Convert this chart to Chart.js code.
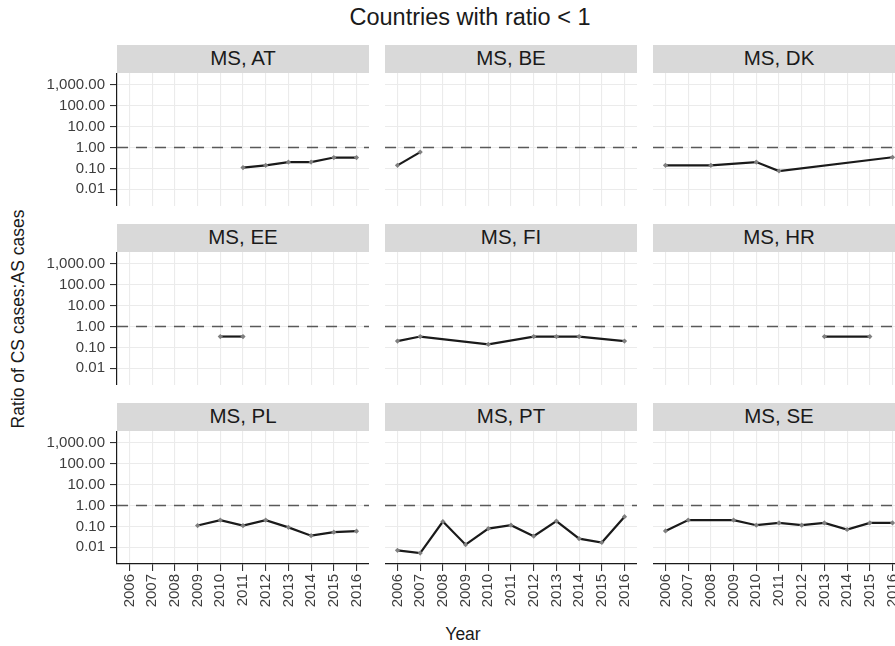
<!DOCTYPE html>
<html>
<head>
<meta charset="utf-8">
<script src="https://cdn.jsdelivr.net/npm/chart.js@4/dist/chart.umd.min.js"></script>
<style>
html,body{margin:0;padding:0;background:#fff;overflow:hidden;width:895px;height:646px}
#root{position:relative;width:930px;height:646px;font-family:"Liberation Sans",Arial,Helvetica,sans-serif;color:#1a1a1a}
.strip{position:absolute;background:#d9d9d9;color:#1a1a1a;text-align:center;font-size:20.5px;height:28px;line-height:25px;white-space:nowrap;overflow:hidden}
.wrap{position:absolute}
.wrap canvas{display:block}
#title{position:absolute;left:0;top:3px;width:940px;text-align:center;font-size:23.5px;line-height:28px}
#xtitle{position:absolute;left:363px;top:623px;width:200px;text-align:center;font-size:17.5px;line-height:22px}
#ytitle{position:absolute;left:-132px;top:308px;width:300px;height:22px;text-align:center;font-size:17.5px;line-height:22px;transform:rotate(-90deg);transform-origin:50% 50%}
</style>
</head>
<body>
<div id="root">
  <div id="title">Countries with ratio &lt; 1</div>
  <div id="xtitle">Year</div>
  <div id="ytitle">Ratio of CS cases:AS cases</div>
</div>
<script>
// ---- data ----
const years = [2006, 2007, 2008, 2009, 2010, 2011, 2012, 2013, 2014, 2015, 2016];
const yTickValues = [0.01, 0.1, 1, 10, 100, 1000];
const threshold = 1;
const panelNames = ['MS, AT', 'MS, BE', 'MS, DK', 'MS, EE', 'MS, FI', 'MS, HR', 'MS, PL', 'MS, PT', 'MS, SE'];

const AT = [null, null, null, null, null, 0.11, 0.14, 0.2, 0.2, 0.33, 0.33];
const BE = [0.14, 0.6, null, null, null, null, null, null, null, null, null];
const DK = [0.14, null, 0.14, null, 0.2, 0.075, null, null, null, null, 0.34];
const EE = [null, null, null, null, 0.33, 0.33, null, null, null, null, null];
const FI = [0.2, 0.33, null, null, 0.14, null, 0.33, 0.33, 0.33, null, 0.2];
const HR = [null, null, null, null, null, null, null, 0.33, null, 0.33, null];
const PL = [null, null, null, 0.11, 0.2, 0.11, 0.2, 0.09, 0.036, 0.053, 0.059];
const PT = [0.0072, 0.0053, 0.17, 0.0134, 0.079, 0.114, 0.034, 0.18, 0.026, 0.017, 0.29];
const SE = [0.061, 0.2, null, 0.2, 0.114, 0.147, 0.114, 0.147, 0.071, 0.147, 0.147];
const panelSeries = [AT, BE, DK, EE, FI, HR, PL, PT, SE];

// ---- layout ----
const FONT = '"Liberation Sans", Arial, Helvetica, sans-serif';
Chart.defaults.font.family = FONT;
const colLeft = [117, 385, 653];
const rowTop = [73, 252, 431];
const PW = 252, PH = 133, YAX = 117, XAX = 60, STRIP = 28;
const xPad = 0.55;
const yMin = 0.0016, yMax = 3600;

const refLinePlugin = {
  id: 'refLine',
  beforeDatasetsDraw(chart) {
    const {ctx, chartArea: a, scales: {y}} = chart;
    const py = Math.round(y.getPixelForValue(threshold)) + 0.5;
    ctx.save();
    ctx.strokeStyle = '#595959';
    ctx.lineWidth = 1.5;
    ctx.setLineDash([11, 8]);
    ctx.beginPath();
    ctx.moveTo(a.left, py);
    ctx.lineTo(a.right, py);
    ctx.stroke();
    ctx.restore();
  }
};

const root = document.getElementById('root');
const fmt = v => Number(v).toLocaleString('en-US', {minimumFractionDigits: 2, maximumFractionDigits: 2});

panelNames.forEach((name, i) => {
  const r = Math.floor(i / 3), c = i % 3;
  const hasY = c === 0, hasX = r === 2;

  const strip = document.createElement('div');
  strip.className = 'strip';
  strip.style.left = colLeft[c] + 'px';
  strip.style.top = (rowTop[r] - STRIP) + 'px';
  strip.style.width = PW + 'px';
  strip.textContent = name;
  root.appendChild(strip);

  const w = PW + (hasY ? YAX : 0);
  const h = PH + (hasX ? XAX : 0);
  const wrap = document.createElement('div');
  wrap.className = 'wrap';
  wrap.style.left = (colLeft[c] - (hasY ? YAX : 0)) + 'px';
  wrap.style.top = rowTop[r] + 'px';
  wrap.style.width = w + 'px';
  wrap.style.height = h + 'px';
  const cv = document.createElement('canvas');
  cv.width = w; cv.height = h;
  cv.style.width = w + 'px'; cv.style.height = h + 'px';
  wrap.appendChild(cv);
  root.appendChild(wrap);

  const vals = panelSeries[i];
  const pts = years.map((yr, k) => ({x: yr, y: vals[k]})).filter(p => p.y !== null);

  new Chart(cv.getContext('2d'), {
    type: 'line',
    data: {
      datasets: [{
        data: pts,
        borderColor: '#1a1a1a',
        borderWidth: 2.2,
        pointStyle: 'rectRot',
        pointRadius: 2.6,
        pointBorderWidth: 0,
        pointBackgroundColor: '#808080',
        tension: 0,
        fill: false
      }]
    },
    options: {
      responsive: false,
      animation: false,
      events: [],
      layout: {padding: 0, autoPadding: false},
      plugins: {legend: {display: false}, tooltip: {enabled: false}, title: {display: false}},
      scales: {
        x: {
          type: 'linear',
          min: years[0] - xPad,
          max: years[years.length - 1] + xPad,
          afterBuildTicks: s => { s.ticks = years.map(v => ({value: v})); },
          afterFit: s => { s.height = hasX ? XAX : 0; s.paddingLeft = 0; s.paddingRight = 0; s.paddingTop = 0; s.paddingBottom = 0; },
          grid: {color: '#ebebeb', lineWidth: 1.1, drawTicks: hasX, tickLength: 7, tickColor: '#333333', tickWidth: 1.1},
          border: {display: hasX, color: '#1a1a1a', width: 1.2},
          ticks: {display: hasX, autoSkip: false, minRotation: 90, maxRotation: 90, padding: 3,
                  color: '#3d3d3d', font: {family: FONT, size: 15}, callback: v => String(v)}
        },
        y: {
          type: 'logarithmic',
          min: yMin,
          max: yMax,
          bounds: 'data',
          afterBuildTicks: s => { s.ticks = yTickValues.map(v => ({value: v})); },
          afterFit: s => { s.width = hasY ? YAX : 0; s.paddingTop = 0; s.paddingBottom = 0; s.paddingLeft = 0; s.paddingRight = 0; },
          grid: {color: '#ebebeb', lineWidth: 1.1, drawTicks: hasY, tickLength: 7, tickColor: '#333333', tickWidth: 1.1},
          border: {display: hasY, color: '#1a1a1a', width: 1.2},
          ticks: {display: hasY, autoSkip: false, padding: 5, color: '#3d3d3d',
                  font: {family: FONT, size: 15}, callback: v => fmt(v)}
        }
      }
    },
    plugins: [refLinePlugin]
  });
});
</script>
</body>
</html>
